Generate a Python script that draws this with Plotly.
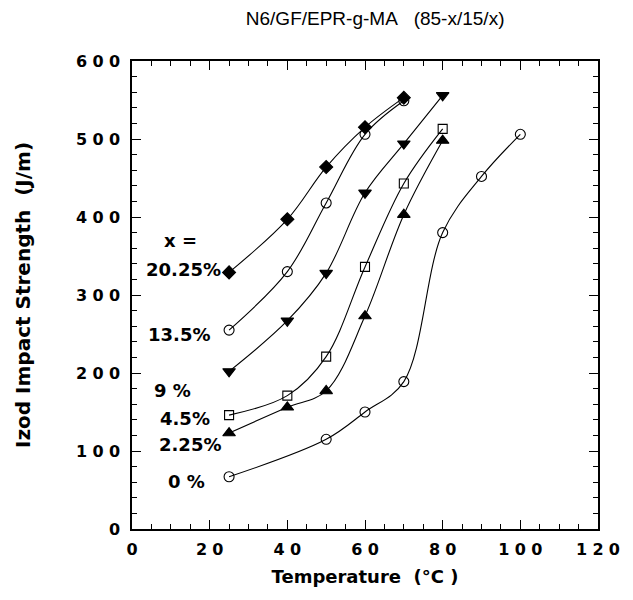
import plotly.graph_objects as go

temps_0 = [25, 50, 60, 70, 80, 90, 100]
izod_0 = [67, 115, 150, 189, 380, 452, 506]

temps_225 = [25, 40, 50, 60, 70, 80]
izod_225 = [123, 156, 177, 273, 403, 498]

temps_45 = [25, 40, 50, 60, 70, 80]
izod_45 = [146, 171, 221, 336, 443, 513]

temps_9 = [25, 40, 50, 60, 70, 80]
izod_9 = [202, 267, 328, 431, 494, 556]

temps_135 = [25, 40, 50, 60, 70]
izod_135 = [255, 330, 418, 506, 549]

temps_2025 = [25, 40, 50, 60, 70]
izod_2025 = [329, 397, 464, 515, 553]

S = "\u2004"
x_ticks = [0, 20, 40, 60, 80, 100, 120]
x_ticktext = ["0", f"2{S}0", f"4{S}0", f"6{S}0", f"8{S}0", f"1{S}0{S}0", f"1{S}2{S}0"]
y_ticks = [0, 100, 200, 300, 400, 500, 600]
y_ticktext = ["0", f"1{S}0{S}0", f"2{S}0{S}0", f"3{S}0{S}0", f"4{S}0{S}0", f"5{S}0{S}0", f"6{S}0{S}0"]

series = [
    (temps_0, izod_0, "circle-open", 10),
    (temps_225, izod_225, "triangle-up", 11),
    (temps_45, izod_45, "square-open", 9),
    (temps_9, izod_9, "triangle-down", 11),
    (temps_135, izod_135, "circle-open", 10),
    (temps_2025, izod_2025, "diamond", 10),
]

labels = [
    ("0 %", 19.2, 61),
    ("2.25%", 23.5, 108),
    ("4.5%", 20.5, 142),
    ("9 %", 15.8, 178),
    ("13.5%", 20.5, 250),
    ("20.25%", 23.5, 333),
]

fig = go.Figure()
for xs, ys, sym, size in series:
    fig.add_trace(go.Scatter(
        x=xs, y=ys, mode="lines+markers",
        line=dict(color="black", width=1.1, shape="spline", smoothing=1.0),
        marker=dict(symbol=sym, size=size, color="black",
                    line=dict(color="black", width=1.1)),
        showlegend=False, cliponaxis=False,
    ))

tickfont = dict(family="DejaVu Sans, sans-serif", size=16, color="black", weight="bold")
wide = dict(family="DejaVu Sans, sans-serif", size=18, color="black", weight="bold")

for txt, xx, yy in labels:
    fig.add_annotation(x=xx, y=yy, text=txt, showarrow=False, xanchor="right",
                       yanchor="middle", font=wide)
fig.add_annotation(x=7.6, y=370, text="x =", showarrow=False, xanchor="left",
                   yanchor="middle", font=wide)

axis_common = dict(
    showgrid=False, zeroline=False, showline=True, linecolor="black", linewidth=1.5,
    mirror="allticks", ticks="inside", ticklen=9, tickwidth=1.2, tickcolor="black",
    tickfont=tickfont, automargin=False,
)

fig.update_xaxes(range=[0, 120], tickvals=x_ticks, ticktext=x_ticktext,
                 minor=dict(dtick=5, ticks="inside", ticklen=5, tickwidth=1, tickcolor="black"),
                 ticklabelstandoff=5,
                 title=dict(text="Temperature\u00a0\u00a0(°C )", font=wide, standoff=12),
                 **axis_common)
fig.update_yaxes(range=[0, 600], tickvals=y_ticks, ticktext=y_ticktext,
                 minor=dict(dtick=20, ticks="inside", ticklen=5, tickwidth=1, tickcolor="black"),
                 ticklabelstandoff=7,
                 title=dict(text="Izod\u00a0Impact\u00a0Strength\u00a0\u00a0(J/m)",
                            font=dict(family="DejaVu Sans, sans-serif", size=20, color="black", weight="bold"),
                            standoff=40),
                 **axis_common)

fig.update_layout(
    width=633, height=600,
    margin=dict(l=124, r=43, t=53, b=79),
    paper_bgcolor="white", plot_bgcolor="white",
    title=dict(text="N6/GF/EPR-g-MA\u00a0\u00a0\u00a0(85-x/15/x)", x=0.58, xanchor="center", y=0.982,
               yanchor="middle",
               font=dict(family="Liberation Sans, Arial, sans-serif", size=19, color="black")),
)

fig.write_html("out.html")
